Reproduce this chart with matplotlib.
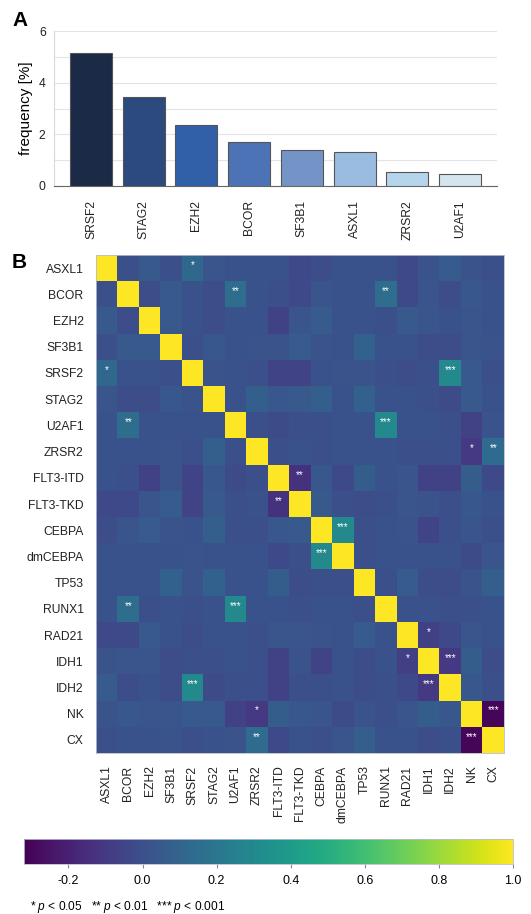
import numpy as np
import matplotlib
matplotlib.use("Agg")
import matplotlib.pyplot as plt

plt.rcParams['font.family'] = ['Liberation Sans', 'DejaVu Sans']
plt.rcParams['axes.unicode_minus'] = False
plt.rcParams['mathtext.fontset'] = 'custom'
plt.rcParams['mathtext.it'] = 'Liberation Sans:italic'
plt.rcParams['mathtext.rm'] = 'Liberation Sans'

### data

# panel A: mutation frequency
genes = ['SRSF2', 'STAG2', 'EZH2', 'BCOR', 'SF3B1', 'ASXL1', 'ZRSR2', 'U2AF1']
freq = [5.15, 3.45, 2.35, 1.7, 1.4, 1.3, 0.55, 0.45]
bar_colors = ['#1b2a47', '#2c4a7e', '#3160a8', '#4b73b6', '#7494c8', '#9bbce1', '#b4d5eb', '#d4e5ef']

# panel B: correlation matrix (upper triangle, row i holds cols i+1..)
labels = ['ASXL1', 'BCOR', 'EZH2', 'SF3B1', 'SRSF2', 'STAG2', 'U2AF1', 'ZRSR2', 'FLT3-ITD',
          'FLT3-TKD', 'CEBPA', 'dmCEBPA', 'TP53', 'RUNX1', 'RAD21', 'IDH1', 'IDH2', 'NK', 'CX']
upper = [
    [0.00, 0.05, 0.00, 0.12, 0.03, 0.01, 0.01, 0.01, -0.03, -0.01, 0.01, 0.01, 0.01, -0.03, 0.02, 0.06, 0.02, 0.00],
    [-0.01, 0.05, 0.01, -0.01, 0.15, 0.01, 0.00, -0.03, 0.03, 0.01, 0.01, 0.15, -0.03, 0.03, -0.01, 0.04, 0.01],
    [0.05, 0.01, -0.01, 0.01, 0.01, -0.06, 0.03, 0.06, 0.01, 0.01, 0.00, 0.05, 0.03, 0.01, 0.03, 0.01],
    [0.00, 0.04, 0.01, 0.02, 0.02, 0.06, 0.02, 0.01, 0.09, 0.01, 0.01, -0.01, -0.01, 0.03, 0.02],
    [0.02, 0.01, 0.00, -0.05, -0.05, 0.01, 0.02, 0.02, 0.00, -0.01, 0.00, 0.30, 0.05, 0.00],
    [0.01, 0.08, 0.04, 0.05, 0.08, 0.01, 0.09, 0.01, 0.01, 0.00, -0.02, 0.05, 0.01],
    [0.00, -0.02, 0.00, 0.00, 0.01, 0.01, 0.30, 0.01, 0.01, 0.00, -0.06, 0.02],
    [0.00, 0.01, 0.00, 0.01, 0.01, 0.01, 0.00, 0.00, 0.00, -0.10, 0.14],
    [-0.13, 0.04, -0.03, 0.07, 0.01, 0.03, -0.06, -0.06, 0.07, -0.03],
    [0.05, 0.00, -0.01, 0.00, 0.03, 0.02, 0.00, 0.04, 0.01],
    [0.30, 0.00, 0.01, 0.02, -0.05, 0.00, 0.03, 0.00],
    [0.00, 0.01, 0.01, 0.01, 0.01, -0.02, 0.03],
    [0.00, 0.06, -0.01, -0.01, 0.02, 0.08],
    [0.01, 0.01, 0.00, 0.00, 0.01],
    [-0.07, -0.03, 0.03, 0.01],
    [-0.10, 0.07, -0.01],
    [0.04, 0.00],
    [-0.30],
]
# significant pairs (row, col, stars)
sig_pairs = [(0, 4, '*'), (1, 6, '**'), (1, 13, '**'), (4, 16, '***'), (6, 13, '***'),
             (7, 17, '*'), (7, 18, '**'), (8, 9, '**'), (10, 11, '***'), (14, 15, '*'),
             (15, 16, '***'), (17, 18, '***')]

### build matrix

n = len(labels)
corr = np.eye(n)
for i, row in enumerate(upper):
    for k, v in enumerate(row):
        corr[i, i + 1 + k] = v
        corr[i + 1 + k, i] = v

### plot

W, H = 531, 914
fig = plt.figure(figsize=(W / 100, H / 100), dpi=100)

# panel A
axA = fig.add_axes([54 / W, 1 - 186 / H, 443 / W, 155 / H])
x = np.arange(len(genes))
axA.bar(x, freq, width=0.8, color=bar_colors, edgecolor='#555555', linewidth=0.8, zorder=3)
axA.set_xlim(-0.7, len(genes) - 0.3)
axA.set_ylim(0, 6)
axA.set_yticks([0, 2, 4, 6])
axA.set_yticks([1, 3, 5], minor=True)
axA.grid(axis='y', which='both', color='#e3e3ea', linewidth=0.8, zorder=0)
axA.set_xticks(x)
axA.set_xticklabels(genes, rotation=90, fontsize=8.7)
axA.tick_params(axis='both', length=0, labelsize=8.7, colors='#222222')
axA.tick_params(axis='x', pad=10)
axA.tick_params(axis='y', pad=6)
axA.tick_params(axis='y', which='minor', length=0)
axA.set_ylabel('frequency [%]', fontsize=11)
for s in ['top', 'right']:
    axA.spines[s].set_visible(False)
axA.spines['left'].set_color('#d8d8e0')
axA.spines['bottom'].set_color('#666666')
fig.text(12 / W, 1 - 26 / H, 'A', fontsize=15, fontweight='bold')

# panel B
axB = fig.add_axes([96 / W, 1 - 753 / H, 408 / W, 498 / H])
im = axB.imshow(corr, cmap='viridis', vmin=-0.32, vmax=1.0, aspect='auto', interpolation='nearest')
for i, j, s in sig_pairs:
    for r, c in [(i, j), (j, i)]:
        axB.text(c, r - 0.12, s, ha='center', va='center', color='white', fontsize=7)
axB.set_xticks(range(n))
axB.set_yticks(range(n))
axB.set_xticklabels(labels, rotation=90, fontsize=8.7)
axB.set_yticklabels(labels, fontsize=8.7)
axB.tick_params(length=0, pad=9, colors='#222222')
for s in axB.spines.values():
    s.set_color('#b8bcd0')
    s.set_linewidth(0.6)
fig.text(12 / W, 1 - 268 / H, 'B', fontsize=15, fontweight='bold')

# colorbar
cax = fig.add_axes([24 / W, 1 - 864 / H, 489 / W, 25 / H])
cb = fig.colorbar(im, cax=cax, orientation='horizontal')
cb.set_ticks([-0.2, 0.0, 0.2, 0.4, 0.6, 0.8, 1.0])
cb.ax.tick_params(labelsize=9, length=3, color='#888888', pad=5)
cb.outline.set_edgecolor('#b8bcd0')
cb.outline.set_linewidth(0.6)

fig.text(30 / W, 1 - 910 / H, r'* $p$ < 0.05   ** $p$ < 0.01   *** $p$ < 0.001', fontsize=8.6)

plt.savefig('out.png', dpi=100)
